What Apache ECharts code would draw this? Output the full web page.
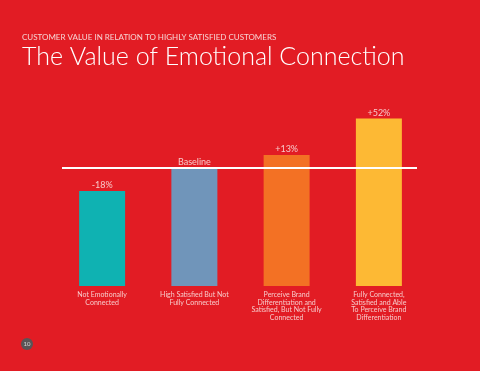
<!DOCTYPE html>
<html><head><meta charset="utf-8">
<script src="https://cdn.jsdelivr.net/npm/echarts@6/dist/echarts.min.js"></script>
<style>html,body{margin:0;padding:0;background:#e21c24;}#c{width:480px;height:371px;}</style>
</head><body><div id="c"></div>
<script>
var categories = ['Not Emotionally\nConnected', 'High Satisfied But Not\nFully Connected', 'Perceive Brand\nDifferentiation and\nSatisfied, But Not Fully\nConnected', 'Fully Connected,\nSatisfied and Able\nTo Perceive Brand\nDifferentiation'];
var values = [80.5, 100, 111, 142];
var valueLabels = ['-18%', 'Baseline', '+13%', '+52%'];
var barColors = ['#0fb2b2', '#7095ba', '#f37124', '#fdb934'];
var baselineValue = 100;

var chart = echarts.init(document.getElementById('c'));
var F = 'Lato, "Noto Sans", sans-serif';
chart.setOption({
  backgroundColor: '#e21c24',
  animation: false,
  title: [
    {text: 'CUSTOMER VALUE IN RELATION TO HIGHLY SATISFIED CUSTOMERS', left: 17, top: 28,
     textStyle: {color: '#f6d4d4', fontSize: 8, fontWeight: 'normal', fontFamily: F}},
    {text: 'The Value of Emotional Connection', left: 17, top: 39,
     textStyle: {color: '#ffffff', fontSize: 25, fontWeight: 300, fontFamily: F}}
  ],
  grid: {left: 56, right: 55, top: 50, bottom: 85},
  xAxis: {type: 'category', data: categories, axisLine: {show: false}, axisTick: {show: false},
    axisLabel: {interval: 0, color: '#f7caca', fontSize: 7, lineHeight: 7.5, margin: 5, fontFamily: F}},
  yAxis: {type: 'value', min: 0, max: 200, show: false, splitLine: {show: false}},
  series: [{
    type: 'bar', barWidth: 46,
    data: values.map(function (v, i) { return {value: v, itemStyle: {color: barColors[i]}}; }),
    label: {show: true, position: 'top', distance: 1, color: '#f7caca', fontSize: 9, fontFamily: F,
      formatter: function (p) { return valueLabels[p.dataIndex]; }},
    markLine: {silent: true, symbol: 'none', label: {show: false},
      lineStyle: {color: '#ffffff', width: 2, type: 'solid'},
      data: [[{x: 62, yAxis: baselineValue}, {x: 417, yAxis: baselineValue}]]}
  }],
  graphic: [
    {type: 'circle', shape: {cx: 27, cy: 344, r: 6}, style: {fill: '#5a5456'}},
    {type: 'text', x: 27, y: 344, style: {text: '10', fill: '#d8d8d8', fontSize: 6, align: 'center', verticalAlign: 'middle', fontFamily: F}}
  ]
});
</script></body></html>
